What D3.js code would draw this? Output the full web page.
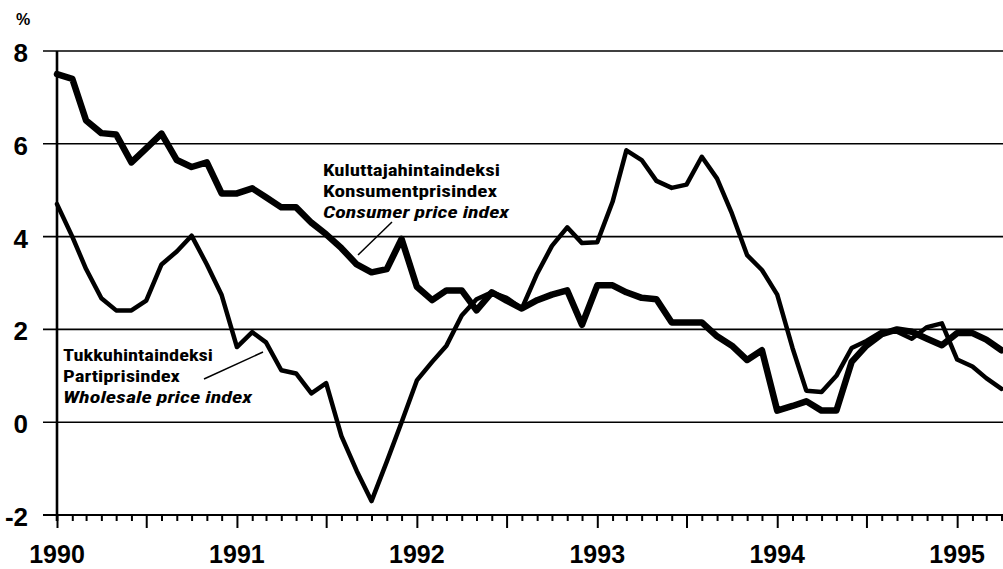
<!DOCTYPE html>
<html>
    <head>
        <title>Consumer and wholesale price index 1990-1995</title>
        <style>
            body { margin: 0; background: #fff; }
            .tick-label { font-family: "Liberation Sans", Arial, sans-serif; font-weight: bold; font-size: 26px; fill: #000; }
            .note { font-family: "Liberation Sans Narrow", "Roboto Condensed", "DejaVu Sans Condensed", "DejaVu Sans", sans-serif; font-stretch: condensed; font-weight: bold; font-size: 17px; fill: #000; }
        </style>
        <script src="https://cdnjs.cloudflare.com/ajax/libs/d3/7.8.5/d3.min.js" charset="utf-8"></script>
    </head>
    <body>
        <div id="chart"></div>
        <script>
            // monthly year-on-year change, Jan 1990 .. Apr 1995
            const consumerPrice = [
                7.5, 7.4, 6.5, 6.23, 6.2, 5.6, 5.9, 6.22, 5.65, 5.5, 5.6, 4.93,
                4.93, 5.04, 4.85, 4.63, 4.63, 4.3, 4.05, 3.75, 3.4, 3.23, 3.3, 3.95,
                2.92, 2.63, 2.84, 2.84, 2.41, 2.8, 2.62, 2.45, 2.63, 2.75, 2.84, 2.1,
                2.95, 2.95, 2.8, 2.68, 2.65, 2.15, 2.15, 2.15, 1.85, 1.65, 1.34, 1.55,
                0.25, 0.35, 0.45, 0.25, 0.25, 1.3, 1.65, 1.9, 2.0, 1.95, 1.8, 1.66,
                1.92, 1.92, 1.78, 1.55
            ];
            const wholesalePrice = [
                4.7, 4.0, 3.3, 2.67, 2.41, 2.41, 2.62, 3.4, 3.68, 4.02, 3.4, 2.74,
                1.62, 1.94, 1.72, 1.12, 1.05, 0.62, 0.84, -0.3, -1.05, -1.7, -0.85, 0.0,
                0.9, 1.3, 1.65, 2.3, 2.65, 2.8, 2.68, 2.45, 3.2, 3.8, 4.2, 3.86,
                3.88, 4.75, 5.86, 5.65, 5.2, 5.05, 5.12, 5.72, 5.25, 4.5, 3.6, 3.28,
                2.75, 1.6, 0.68, 0.65, 1.0, 1.6, 1.75, 1.95, 1.95, 1.8, 2.05, 2.13,
                1.35, 1.2, 0.95, 0.72
            ];
            const yTicks = [-2, 0, 2, 4, 6, 8];
            const yearLabels = [1990, 1991, 1992, 1993, 1994, 1995];
            const consumerNote = ["Kuluttajahintaindeksi", "Konsumentprisindex", "Consumer price index"];
            const wholesaleNote = ["Tukkuhintaindeksi", "Partiprisindex", "Wholesale price index"];

            const w = 1003;
            const h = 569;
            const left = 57;

            const months = d3.timeMonth.range(new Date(1990, 0, 1), new Date(1995, 4, 1));

            const svg = d3.select("#chart")
                .append("svg")
                .attr("width", w)
                .attr("height", h);

            const xScale = d3.scaleTime()
                .domain([new Date(1990, 0, 1), new Date(1995, 3, 4)])
                .range([left, w]);

            const yScale = d3.scaleLinear()
                .domain([-2, 8])
                .range([515, 51]);

            // horizontal grid
            svg.append("g")
                .selectAll("line")
                .data(yTicks)
                .enter()
                .append("line")
                .attr("x1", 43)
                .attr("x2", w)
                .attr("y1", d => yScale(d))
                .attr("y2", d => yScale(d))
                .attr("stroke", "#000")
                .attr("stroke-width", d => d === -2 ? 2.2 : 1.6);

            svg.append("g")
                .selectAll("text")
                .data(yTicks)
                .enter()
                .append("text")
                .attr("class", "tick-label")
                .attr("x", 28)
                .attr("y", d => yScale(d) + 2)
                .attr("text-anchor", "end")
                .attr("dominant-baseline", "central")
                .text(d => d);

            svg.append("text")
                .attr("class", "tick-label")
                .attr("x", 23)
                .attr("y", 19)
                .attr("text-anchor", "middle")
                .attr("dominant-baseline", "central")
                .style("font-size", "16px")
                .text("%");

            // x axis: month ticks, longer every half year
            const xAxis = d3.axisBottom(xScale)
                .tickValues(months)
                .tickSize(6)
                .tickFormat("");
            const xg = svg.append("g")
                .attr("transform", "translate(0," + yScale(-2) + ")")
                .call(xAxis);
            xg.select(".domain").remove();
            xg.selectAll(".tick line")
                .attr("stroke-width", 2)
                .attr("y2", d => d.getMonth() % 6 === 0 ? 13 : 6);

            svg.append("g")
                .selectAll("text")
                .data(yearLabels)
                .enter()
                .append("text")
                .attr("class", "tick-label")
                .attr("x", d => xScale(new Date(d, 0, 1)))
                .attr("y", 563)
                .attr("text-anchor", "middle")
                .style("font-size", "25px")
                .text(d => d);

            // left axis line
            svg.append("line")
                .attr("x1", left).attr("x2", left)
                .attr("y1", yScale(8)).attr("y2", yScale(-2) + 6)
                .attr("stroke", "#000")
                .attr("stroke-width", 2.6);

            const line = d3.line()
                .x((d, i) => xScale(months[i]))
                .y(d => yScale(d));

            svg.append("path")
                .datum(wholesalePrice)
                .attr("d", line)
                .attr("fill", "none")
                .attr("stroke", "#000")
                .attr("stroke-width", 4.5)
                .attr("stroke-linejoin", "round")
                .attr("stroke-linecap", "round");

            svg.append("path")
                .datum(consumerPrice)
                .attr("d", line)
                .attr("fill", "none")
                .attr("stroke", "#000")
                .attr("stroke-width", 6.5)
                .attr("stroke-linejoin", "round")
                .attr("stroke-linecap", "round");

            // labels with pointer lines
            const consumerWidths = [177, 174, 186];
            svg.append("g")
                .selectAll("text")
                .data(consumerNote)
                .enter()
                .append("text")
                .attr("class", "note")
                .attr("x", 323)
                .attr("y", (d, i) => 176 + i * 21.2)
                .attr("textLength", (d, i) => consumerWidths[i])
                .attr("lengthAdjust", "spacingAndGlyphs")
                .style("font-style", (d, i) => i === 2 ? "italic" : "normal")
                .text(d => d);
            svg.append("line")
                .attr("x1", 358).attr("y1", 255)
                .attr("x2", 392).attr("y2", 222)
                .attr("stroke", "#000")
                .attr("stroke-width", 1.5);

            const wholesaleWidths = [150, 117, 189];
            svg.append("g")
                .selectAll("text")
                .data(wholesaleNote)
                .enter()
                .append("text")
                .attr("class", "note")
                .attr("x", 63)
                .attr("y", (d, i) => 361 + i * 21.2)
                .attr("textLength", (d, i) => wholesaleWidths[i])
                .attr("lengthAdjust", "spacingAndGlyphs")
                .style("font-style", (d, i) => i === 2 ? "italic" : "normal")
                .text(d => d);
            svg.append("line")
                .attr("x1", 204).attr("y1", 379)
                .attr("x2", 263).attr("y2", 352)
                .attr("stroke", "#000")
                .attr("stroke-width", 1.5);
        </script>
    </body>
</html>
